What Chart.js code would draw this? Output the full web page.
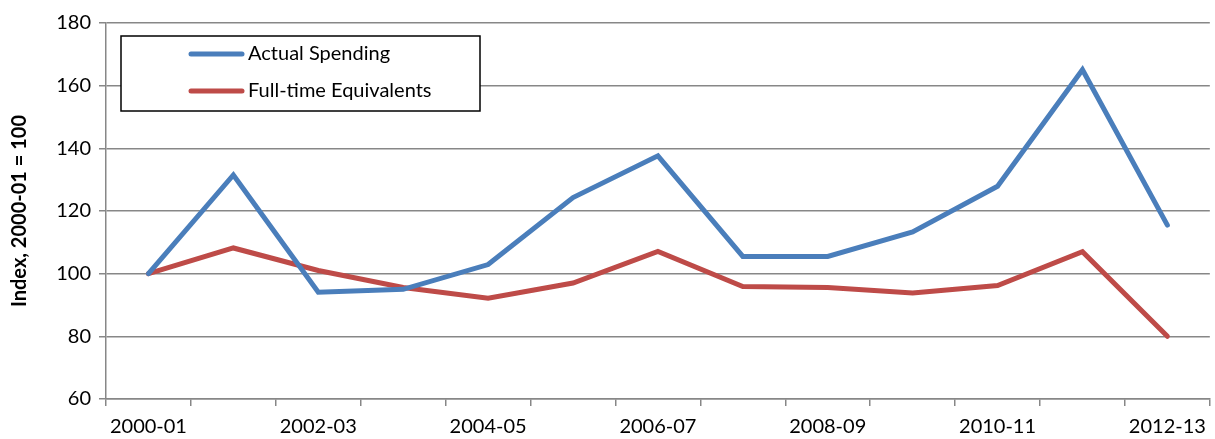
<!DOCTYPE html>
<html>
<head>
<meta charset="utf-8">
<script src="https://cdn.jsdelivr.net/npm/chart.js@4"></script>
<style>
  html, body { margin: 0; padding: 0; background: #fff; }
  #wrap { width: 1215px; height: 439px; }
</style>
</head>
<body>
<div id="wrap"><canvas id="indexChart"></canvas></div>
<script>
const years = ['2000-01','2001-02','2002-03','2003-04','2004-05','2005-06','2006-07',
               '2007-08','2008-09','2009-10','2010-11','2011-12','2012-13'];
const actualSpending = [100, 131.5, 94.1, 95, 102.9, 124.3, 137.6, 105.5, 105.5, 113.3, 127.9, 165.1, 115.5];
const fullTimeEquiv  = [100, 108.2, 101, 95.6, 92.2, 97, 107.1, 95.9, 95.6, 93.8, 96.2, 107, 80];
const yTicks = [60, 80, 100, 120, 140, 160, 180];

const FONT = 'Lato, "Liberation Sans", sans-serif';
const gridGray = '#878787';

// boxed legend in the top left, Excel style
const boxLegend = {
  id: 'boxLegend',
  afterDraw(chart) {
    const ctx = chart.ctx;
    const x0 = 121, y0 = 36, w = 359, h = 75;
    ctx.save();
    ctx.fillStyle = '#fff';
    ctx.fillRect(x0, y0, w, h);
    ctx.strokeStyle = '#000';
    ctx.lineWidth = 1.5;
    ctx.strokeRect(x0, y0, w, h);
    ctx.font = '20px ' + FONT;
    ctx.textBaseline = 'middle';
    chart.data.datasets.forEach((ds, i) => {
      const y = y0 + 18 + i * 37;
      ctx.strokeStyle = ds.borderColor;
      ctx.lineWidth = 5;
      ctx.lineCap = 'round';
      ctx.beginPath();
      ctx.moveTo(191, y);
      ctx.lineTo(242, y);
      ctx.stroke();
      ctx.fillStyle = '#000';
      ctx.fillText(ds.label, 248, y);
    });
    ctx.restore();
  }
};

new Chart(document.getElementById('indexChart').getContext('2d'), {
  type: 'line',
  data: {
    labels: years,
    datasets: [
      { label: 'Actual Spending', data: actualSpending, borderColor: '#4a7ebb',
        borderWidth: 5, pointRadius: 0, tension: 0, borderCapStyle: 'round', borderJoinStyle: 'miter' },
      { label: 'Full-time Equivalents', data: fullTimeEquiv, borderColor: '#be4b48',
        borderWidth: 5, pointRadius: 0, tension: 0, borderCapStyle: 'round', borderJoinStyle: 'miter' }
    ]
  },
  options: {
    responsive: true,
    maintainAspectRatio: false,
    animation: false,
    layout: { padding: { top: 23, right: 3, left: 0, bottom: 0 } },
    plugins: {
      legend: { display: false },
      tooltip: { enabled: false }
    },
    scales: {
      x: {
        offset: true,
        grid: { offset: true, drawOnChartArea: false, color: gridGray, lineWidth: 1.5, tickLength: 7 },
        border: { color: gridGray, width: 1.5 },
        ticks: {
          autoSkip: false, maxRotation: 0, padding: 9,
          color: '#000', font: { family: FONT, size: 20 },
          callback: (v, i) => (i % 2 === 0 ? years[i] : '')
        },
        afterFit: (s) => { s.height = 40; }
      },
      y: {
        min: 60, max: 180,
        afterBuildTicks: (s) => { s.ticks = yTicks.map(v => ({ value: v })); },
        grid: { color: gridGray, lineWidth: 1.5, tickLength: 7 },
        border: { color: gridGray, width: 1.5 },
        ticks: { color: '#000', padding: 8, font: { family: FONT, size: 20 } },
        title: {
          display: true, text: 'Index, 2000-01 = 100', color: '#000',
          font: { family: FONT, size: 20, weight: 'bold' }, padding: { top: 8, bottom: 6 }
        },
        afterFit: (s) => { s.width = 106; }
      }
    }
  },
  plugins: [boxLegend]
});
</script>
</body>
</html>
